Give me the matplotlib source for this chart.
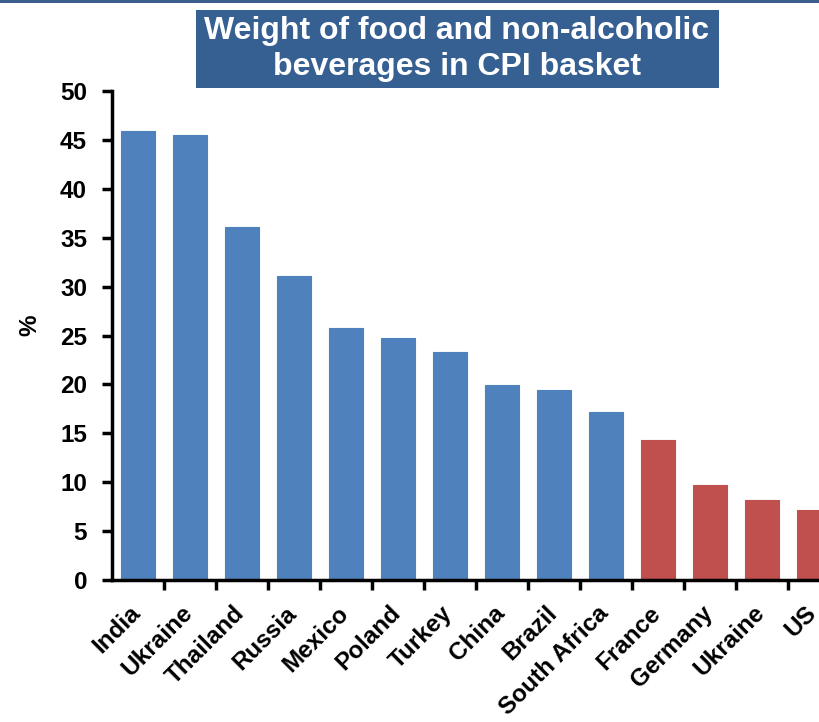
import matplotlib.pyplot as plt
from matplotlib.patches import Rectangle
from matplotlib.transforms import ScaledTranslation

countries = ["India", "Ukraine", "Thailand", "Russia", "Mexico", "Poland", "Turkey",
             "China", "Brazil", "South Africa", "France", "Germany", "Ukraine", "US"]
weights = [45.9, 45.5, 36.1, 31.1, 25.8, 24.8, 23.3, 19.9, 19.4, 17.2, 14.3, 9.7, 8.2, 7.2]
groups = ["EM"] * 10 + ["DM"] * 4
group_colors = {"EM": "#4F81BD", "DM": "#C0504D"}
yticks = list(range(0, 51, 5))

plt.rcParams['font.family'] = ['Liberation Sans', 'DejaVu Sans']

fig = plt.figure(figsize=(8.19, 7.22), dpi=100)
# axes run past the right edge, like the cropped original
ax = fig.add_axes([0.1368, 0.1967, 0.889, 0.677])

x = list(range(len(countries)))
ax.bar(x, weights, width=0.66, color=[group_colors[g] for g in groups],
       edgecolor=[group_colors[g] for g in groups], linewidth=0.8)

ax.set_xlim(-0.5, len(countries) - 0.5)
ax.set_ylim(0, 50)
ax.set_yticks(yticks)
ax.set_yticklabels([str(t) for t in yticks], fontsize=17.5, fontweight='bold')
ax.set_xticks([i - 0.5 for i in range(1, len(countries))], minor=False)
ax.set_xticklabels([])
ax.set_xticks(x, minor=True)
labels = ax.set_xticklabels(countries, minor=True, rotation=45, ha='right', va='top',
                            rotation_mode='anchor', fontsize=17.5, fontweight='bold')
ax.tick_params(axis='x', which='minor', length=0, pad=9)
ax.tick_params(axis='x', which='major', length=7, width=2.5, direction='out')
ax.tick_params(axis='y', length=7, width=2.5, direction='out', pad=11)

# nudge the slanted labels a bit left and down
shift = ScaledTranslation(-0.09, -0.09, fig.dpi_scale_trans)
for lab in labels:
    lab.set_transform(lab.get_transform() + shift)

for s in ['top', 'right']:
    ax.spines[s].set_visible(False)
for s in ['left', 'bottom']:
    ax.spines[s].set_linewidth(2.5)

fig.text(0.036, 1 - 325 / 722, "%", rotation=90, fontsize=17.5, fontweight='bold',
         ha='center', va='center')

# title box
fig.patches.append(Rectangle((196 / 819, 1 - 88 / 722), (719 - 196) / 819, 78 / 722,
                             transform=fig.transFigure, facecolor='#376092',
                             edgecolor='none'))
fig.text(457 / 819, 1 - 49 / 722, "Weight of food and non-alcoholic\nbeverages in CPI basket",
         ha='center', va='center', color='white', fontsize=23, fontweight='bold',
         linespacing=1.25)

# thin banner line at the very top
fig.patches.append(Rectangle((0, 1 - 3 / 722), 1, 3 / 722, transform=fig.transFigure,
                             facecolor='#3A5F8F', edgecolor='none'))

fig.savefig("out.png", dpi=100)
